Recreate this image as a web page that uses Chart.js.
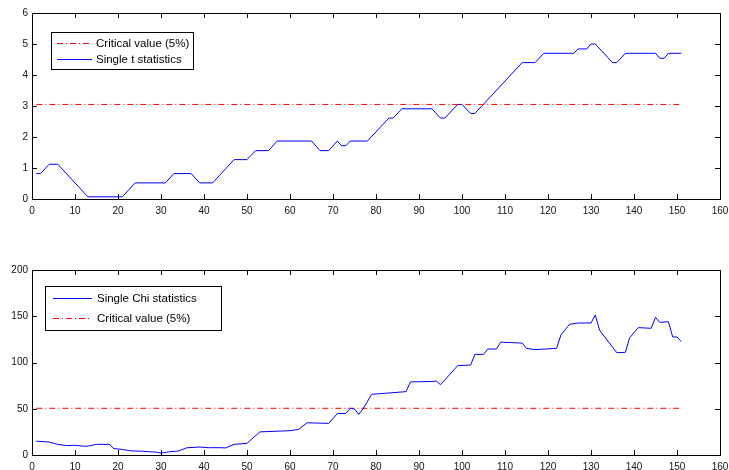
<!DOCTYPE html>
<html>
<head>
<meta charset="utf-8">
<script src="https://cdn.jsdelivr.net/npm/chart.js@4/dist/chart.umd.min.js"></script>
<style>
  html, body { margin: 0; padding: 0; background: #fff; }
  #wrap { position: relative; width: 729px; height: 470px; }
  .panel { position: absolute; left: 0; width: 729px; height: 235px; }
</style>
</head>
<body>
<div id="wrap">
  <div class="panel" style="top:0"><canvas id="tChart" width="729" height="235"></canvas></div>
  <div class="panel" style="top:235px"><canvas id="chiChart" width="729" height="235"></canvas></div>
</div>
<script>
// top panel: single t statistics (breakpoints)
const tX = [1, 2, 4, 6, 13, 21, 24, 31, 33, 37, 39, 42, 47, 50, 52, 55, 57, 65, 67, 69,
    71, 72, 73, 74, 78, 83, 84, 86, 93, 95, 96, 99, 100, 102, 103, 114, 117, 119, 126, 127,
    129, 130, 131, 135, 136, 138, 145, 146, 147, 148, 151];
const tY = [0.82, 0.82, 1.12, 1.12, 0.07, 0.07, 0.52, 0.52, 0.82, 0.82, 0.52, 0.52, 1.27, 1.27, 1.56, 1.56, 1.87, 1.87, 1.56, 1.56,
    1.87, 1.72, 1.72, 1.87, 1.87, 2.61, 2.61, 2.91, 2.91, 2.61, 2.61, 3.05, 3.05, 2.76, 2.76, 4.40, 4.40, 4.70, 4.70, 4.84,
    4.84, 5.0, 5.0, 4.40, 4.40, 4.70, 4.70, 4.54, 4.54, 4.70, 4.70];
const tCritical = 3.05;

// bottom panel: single chi statistics
const chiX = [1, 4, 6, 8, 10, 12, 13, 15, 18, 19, 21, 23, 26, 29, 30, 32, 34, 36, 39, 41,
    44, 45, 47, 50, 53, 60, 62, 64, 69, 71, 73, 74, 75, 76, 77, 79, 87, 88, 93, 94,
    95, 99, 102, 103, 105, 106, 108, 109, 114, 115, 117, 122, 123, 125, 127, 130, 131, 132, 136, 138,
    139, 141, 144, 145, 146, 148, 149, 150, 151];
const chiY = [15, 14, 11.5, 10.2, 10.5, 9.5, 9.6, 11.5, 11.5, 7, 6, 4.5, 4, 3, 2, 3.5, 4.3, 7.8, 8.6, 7.9,
    7.9, 7.6, 11.5, 12.6, 25, 26.3, 27.7, 34.8, 34.2, 44.7, 45, 50.5, 49.7, 44, 50, 65.6, 68.5, 79, 79.5, 80,
    76, 96.6, 97.3, 108.8, 108.8, 114.6, 114.6, 122, 121, 115.3, 113.9, 115.3, 129.7, 141.3, 142.7, 142.7, 151.4, 134.8, 110.6, 111,
    126.8, 137.7, 137, 148.8, 143.4, 144.1, 127.6, 127.6, 122.5];
const chiCritical = 50.5;

const xStart = 1, xEnd = 151;
const xTicks = [0, 10, 20, 30, 40, 50, 60, 70, 80, 90, 100, 110, 120, 130, 140, 150, 160];
const tTicks = [0, 1, 2, 3, 4, 5, 6];
const chiTicks = [0, 50, 100, 150, 200];

const FONT = "'Liberation Sans', Arial, Helvetica, sans-serif";
const dashDot = [6, 3, 1, 3];
const red = "#ff0000", blue = "#0000ff";

function pts(xs, ys) {
    return xs.map((x, i) => ({ x: x, y: ys[i] }));
}

// matlab style frame with inward ticks on all four sides
const framePlugin = {
    id: "frame",
    afterDatasetsDraw(chart) {
        const { ctx, chartArea: a, scales } = chart;
        ctx.save();
        ctx.strokeStyle = "#000";
        ctx.lineWidth = 1;
        ctx.strokeRect(Math.round(a.left) + 0.5, Math.round(a.top) + 0.5,
            Math.round(a.right - a.left), Math.round(a.bottom - a.top));
        const len = 5;
        ctx.beginPath();
        scales.x.ticks.forEach(t => {
            const px = Math.round(scales.x.getPixelForValue(t.value)) + 0.5;
            ctx.moveTo(px, a.bottom); ctx.lineTo(px, a.bottom - len);
            ctx.moveTo(px, a.top); ctx.lineTo(px, a.top + len);
        });
        scales.y.ticks.forEach(t => {
            const py = Math.round(scales.y.getPixelForValue(t.value)) + 0.5;
            ctx.moveTo(a.left, py); ctx.lineTo(a.left + len, py);
            ctx.moveTo(a.right, py); ctx.lineTo(a.right - len, py);
        });
        ctx.stroke();
        ctx.restore();
    }
};

// boxed legend inside the axes
const boxLegend = {
    id: "boxLegend",
    afterDraw(chart, args, opts) {
        const ctx = chart.ctx;
        ctx.save();
        ctx.fillStyle = "#fff";
        ctx.fillRect(opts.x, opts.y, opts.w, opts.h);
        ctx.strokeStyle = "#000";
        ctx.lineWidth = 1;
        ctx.strokeRect(opts.x + 0.5, opts.y + 0.5, opts.w, opts.h);
        ctx.font = "11.5px " + FONT;
        ctx.textBaseline = "middle";
        chart.data.datasets.forEach((ds, row) => {
            const y = Math.round(opts.rowY[row]) + 0.5;
            ctx.save();
            ctx.lineWidth = 1;
            ctx.strokeStyle = ds.borderColor;
            ctx.setLineDash(ds.borderDash || []);
            ctx.beginPath();
            ctx.moveTo(opts.lineX[0], y);
            ctx.lineTo(opts.lineX[1], y);
            ctx.stroke();
            ctx.restore();
            ctx.fillStyle = "#000";
            ctx.fillText(ds.label, opts.textX, opts.rowY[row] + 0.5);
        });
        ctx.restore();
    }
};

function makeChart(id, datasets, yTicks, yMax, bottomPad, topPad, legend) {
    return new Chart(document.getElementById(id), {
        type: "line",
        data: { datasets: datasets },
        options: {
            responsive: false,
            animation: false,
            layout: { padding: { top: topPad, right: 9, left: 0, bottom: 0 } },
            elements: { point: { radius: 0 }, line: { tension: 0, borderWidth: 1 } },
            plugins: {
                legend: { display: false },
                tooltip: { enabled: false },
                boxLegend: legend
            },
            scales: {
                x: {
                    type: "linear", min: 0, max: 160,
                    afterBuildTicks: s => { s.ticks = xTicks.map(v => ({ value: v })); },
                    grid: { display: false, drawTicks: false },
                    border: { display: false },
                    ticks: { color: "#111", font: { family: FONT, size: 10 }, padding: 6, maxRotation: 0 },
                    afterFit: s => { s.height = bottomPad; s.paddingRight = 0; s.paddingLeft = 0; }
                },
                y: {
                    min: 0, max: yMax,
                    afterBuildTicks: s => { s.ticks = yTicks.map(v => ({ value: v })); },
                    grid: { display: false, drawTicks: false },
                    border: { display: false },
                    ticks: { color: "#111", font: { family: FONT, size: 10 }, padding: 4 },
                    afterFit: s => { s.width = 32; }
                }
            }
        },
        plugins: [framePlugin, boxLegend]
    });
}

makeChart("tChart", [
    { label: "Critical value (5%)", data: pts([xStart, xEnd], [tCritical, tCritical]), borderColor: red, borderDash: dashDot },
    { label: "Single t statistics", data: pts(tX, tY), borderColor: blue }
], tTicks, 6, 36, 13, {
    x: 51, y: 32, w: 142, h: 37, rowY: [43, 59], lineX: [57, 92], textX: 96
});

makeChart("chiChart", [
    { label: "Single Chi statistics", data: pts(chiX, chiY), borderColor: blue },
    { label: "Critical value (5%)", data: pts([xStart, xEnd], [chiCritical, chiCritical]), borderColor: red, borderDash: dashDot }
], chiTicks, 200, 15, 35, {
    x: 45, y: 51, w: 176, h: 44, rowY: [63, 83], lineX: [53, 92], textX: 97
});
</script>
</body>
</html>
